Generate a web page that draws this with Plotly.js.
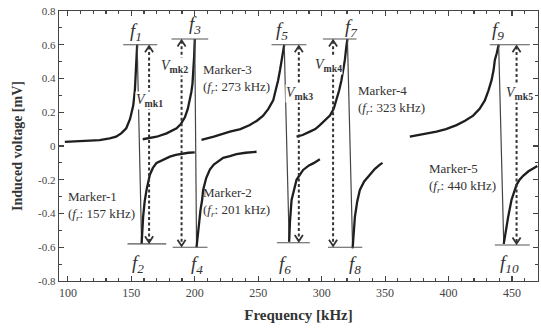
<!DOCTYPE html>
<html><head><meta charset="utf-8">
<script src="https://cdn.plot.ly/plotly-3.0.1.min.js"></script>
<style>html,body{margin:0;padding:0;background:#fff}#chart{width:541px;height:330px}</style>
</head><body><div id="chart"></div>
<script>
// Marker-1
const m1UpF = [97.6,105,115,125,133,138,142,146,149,150,151.5,152.8,153.6,154.1,154.6];
const m1UpV = [0.025,0.027,0.03,0.035,0.045,0.055,0.075,0.105,0.16,0.19,0.24,0.33,0.42,0.51,0.60];
const m1LoF = [158.1,158.6,159.3,160.5,162,164.6,167,169.9,175,180.4,185,190.9,195,200];
const m1LoV = [-0.58,-0.50,-0.42,-0.33,-0.26,-0.17,-0.13,-0.10,-0.08,-0.063,-0.052,-0.043,-0.04,-0.038];
// Marker-2
const m2UpF = [159,164.6,170,177.8,185.7,189,192.2,194.5,196.1,197.3,198.2,199,199.5,200];
const m2UpV = [0.04,0.046,0.055,0.075,0.105,0.13,0.17,0.22,0.27,0.32,0.37,0.45,0.53,0.634];
const m2LoF = [201.4,203,204.5,205.8,206.6,209,211.9,215,219.8,222.4,227.7,232.9,240,248.7];
const m2LoV = [-0.60,-0.48,-0.38,-0.32,-0.26,-0.19,-0.14,-0.11,-0.083,-0.07,-0.06,-0.048,-0.04,-0.034];
// Marker-3
const m3UpF = [205.3,215,227.7,236,243.4,249,253.9,258,261.8,264,265.7,267.2,268.4,269.7,270.5];
const m3UpV = [0.036,0.055,0.085,0.10,0.124,0.15,0.18,0.22,0.27,0.33,0.39,0.45,0.51,0.56,0.60];
const m3LoF = [274.4,275,276.3,278,280.2,285.4,290,293.3,298.6];
const m3LoV = [-0.567,-0.45,-0.32,-0.26,-0.20,-0.142,-0.115,-0.103,-0.079];
// Marker-4
const m4UpF = [280.2,285,290.7,295,298.6,302.5,306.5,309.5,311.7,313.8,315.6,317,318.3,319.3,320.3];
const m4UpV = [0.055,0.065,0.085,0.10,0.124,0.15,0.18,0.22,0.27,0.33,0.39,0.45,0.51,0.58,0.634];
const m4LoF = [324.4,325,326.2,328,330.1,333.5,338,342,345.9,348];
const m4LoV = [-0.606,-0.52,-0.42,-0.33,-0.26,-0.21,-0.17,-0.135,-0.11,-0.10];
// Marker-5
const m5UpF = [369.5,380,390.5,398,406.3,413,419.4,424.5,428.6,431.5,433.9,435.5,436.5,438,439.5];
const m5UpV = [0.055,0.068,0.085,0.10,0.124,0.15,0.18,0.22,0.27,0.33,0.39,0.45,0.51,0.55,0.60];
const m5LoF = [443.5,445,447,449.6,451.5,453.6,456,459,463,467,470];
const m5LoV = [-0.58,-0.50,-0.42,-0.32,-0.27,-0.23,-0.20,-0.175,-0.15,-0.13,-0.118];

// Level lines (f labels)
const fNames = ['1','2','3','4','5','6','7','8','9','10'];
const fLabelX = [154,155.4,200,201.4,268.4,271,323.5,326,439,448];
const fLabelY = [0.675,-0.70,0.72,-0.705,0.68,-0.705,0.70,-0.705,0.68,-0.70];
const fLineX0 = [143.6,147,181.7,182.6,260.5,264.7,301,305,432.5,436.5];
const fLineX1 = [170.4,177.5,210.6,210,288,290.7,327.5,332,464,464];
const fLineY  = [0.60,-0.58,0.634,-0.60,0.60,-0.573,0.634,-0.60,0.60,-0.587];

// V_mk arrows
const vNames = ['mk1','mk2','mk3','mk4','mk5'];
const vX = [164,189.6,282,309,453.6];
const vTop = [0.60,0.634,0.60,0.634,0.60];
const vBot = [-0.58,-0.60,-0.573,-0.60,-0.587];
const vLabX = [164,184,282.8,305.5,456];
const vLabY = [0.27,0.47,0.31,0.48,0.31];

// Marker labels
const mkNames = ['Marker-1','Marker-2','Marker-3','Marker-4','Marker-5'];
const mkFreq = ['157','201','273','323','440'];
const mkX = [98.5,205,205,327,383];
const mkY = [-0.355,-0.33,0.395,0.275,-0.19];

const ups = [[m1UpF,m1UpV],[m2UpF,m2UpV],[m3UpF,m3UpV],[m4UpF,m4UpV],[m5UpF,m5UpV]];
const los = [[m1LoF,m1LoV],[m2LoF,m2LoV],[m3LoF,m3LoV],[m4LoF,m4LoV],[m5LoF,m5LoV]];

const traces = [];
const curveLine = {color:'#1e1e1e', width:2.3};
ups.forEach((u,i)=>{
  const l = los[i];
  traces.push({x:u[0], y:u[1], mode:'lines', line:curveLine, hoverinfo:'skip'});
  traces.push({x:[u[0][u[0].length-1], l[0][0]], y:[u[1][u[1].length-1], l[1][0]], mode:'lines', line:{color:'#444', width:1.2}, hoverinfo:'skip'});
  traces.push({x:l[0], y:l[1], mode:'lines', line:curveLine, hoverinfo:'skip'});
});

const shapes = [];
fLineY.forEach((y,i)=>{
  shapes.push({type:'line', xref:'x', yref:'y', x0:fLineX0[i], x1:fLineX1[i], y0:y, y1:y, line:{color:'#555', width:1.1}});
});
const aw = 3.2, ah = 0.045;
vX.forEach((x,i)=>{
  shapes.push({type:'line', xref:'x', yref:'y', x0:x, x1:x, y0:vTop[i]-0.01, y1:vBot[i]+0.01, line:{color:'#333', width:2, dash:'3px,2.5px'}});
  shapes.push({type:'path', xref:'x', yref:'y', path:`M ${x-aw},${vTop[i]-ah} L ${x},${vTop[i]-0.008} L ${x+aw},${vTop[i]-ah}`, line:{color:'#333', width:1.8}});
  shapes.push({type:'path', xref:'x', yref:'y', path:`M ${x-aw},${vBot[i]+ah} L ${x},${vBot[i]+0.008} L ${x+aw},${vBot[i]+ah}`, line:{color:'#333', width:1.8}});
});

const serif = "'Liberation Serif', 'Times New Roman', Times, serif";
const annotations = [];
fNames.forEach((n,i)=>{
  annotations.push({x:fLabelX[i], y:fLabelY[i], xref:'x', yref:'y', showarrow:false,
    text:`<i>f<sub>${n}</sub></i>`, font:{family:serif, size:19, color:'#333'}});
});
vNames.forEach((n,i)=>{
  annotations.push({x:vLabX[i], y:vLabY[i], xref:'x', yref:'y', showarrow:false, bgcolor:'#fff', borderpad:0,
    text:`<i>V</i><sub><b>${n}</b></sub>`, font:{family:serif, size:14, color:'#333'}});
});
mkNames.forEach((n,i)=>{
  annotations.push({x:mkX[i], y:mkY[i], xref:'x', yref:'y', showarrow:false, xanchor:'left', align:'left',
    text:`${n}<br>(<i>f<sub>r</sub></i>: ${mkFreq[i]} kHz)`, font:{family:serif, size:13, color:'#333'}});
});

const layout = {
  width:541, height:330,
  margin:{l:59, r:3, t:11, b:49},
  paper_bgcolor:'#fff', plot_bgcolor:'#fff',
  showlegend:false,
  font:{family:serif, color:'#333'},
  xaxis:{range:[93,470.5], tickvals:[100,150,200,250,300,350,400,450], ticks:'inside', ticklen:5, tickwidth:1.2, tickcolor:'#444',
    minor:{dtick:10, ticks:'inside', ticklen:3, tickcolor:'#444'},
    showline:true, linecolor:'#444', linewidth:1.3, mirror:'ticks', showgrid:false, zeroline:false,
    tickfont:{family:serif, size:12, color:'#444'},
    title:{text:'<b>Frequency [kHz]</b>', font:{family:serif, size:15, color:'#333'}, standoff:10}},
  yaxis:{range:[-0.8,0.8], tickvals:[-0.8,-0.6,-0.4,-0.2,0,0.2,0.4,0.6,0.8], ticktext:['-0.8','-0.6','-0.4','-0.2','0','0.2','0.4','0.6','0.8'],
    ticks:'inside', ticklen:5, tickwidth:1.2, tickcolor:'#444',
    minor:{dtick:0.1, ticks:'inside', ticklen:3, tickcolor:'#444'},
    showline:true, linecolor:'#444', linewidth:1.3, mirror:'ticks', showgrid:false, zeroline:false,
    tickfont:{family:serif, size:11, color:'#444'},
    title:{text:'<b>Induced voltage [mV]</b>', font:{family:serif, size:14, color:'#333'}, standoff:12}},
  shapes:shapes, annotations:annotations
};
Plotly.newPlot('chart', traces, layout, {staticPlot:true, displayModeBar:false});
</script></body></html>
